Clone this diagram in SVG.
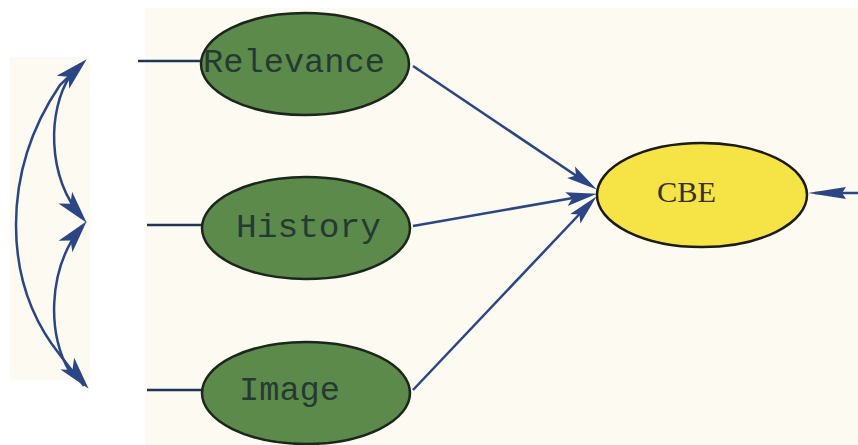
<svg xmlns="http://www.w3.org/2000/svg" xmlns:xlink="http://www.w3.org/1999/xlink" width="858" height="445" viewBox="0 0 858 445">
<style>
.bg{fill:#fcfaf1}
.node{fill:#5b8a4a;stroke:#1c261c;stroke-width:2.5}
.cbe{fill:#f6e447;stroke:#1c1c14;stroke-width:2.5}
.lbl{font-family:"Liberation Mono",monospace;font-size:33px;fill:#263a34}
.cbel{font-family:"Liberation Serif",serif;font-size:29px;fill:#3a3222}
.con{stroke:#2b4682;stroke-width:2.5;fill:none}
.stub{stroke:#23345a;stroke-width:2.5;fill:none}
.head{fill:#2b4682}
</style>
<defs>
<path id="head" class="head" d="M1,0 L-30,-7 L-24,0 L-30,7 Z"/>
<path id="headR" class="head" d="M1,0 L-37,-6 L-33,0 L-37,6 Z"/>
<path id="headL" class="head" d="M1,0 L-32,-9 L-24,0 L-32,9 Z"/>
</defs>
<rect x="0" y="0" width="858" height="445" fill="#ffffff"/>
<rect class="bg" x="145" y="8" width="713" height="437"/>
<rect class="bg" x="10" y="57" width="80" height="323"/>
<g id="connectors">
<line class="stub" x1="138" y1="61" x2="203" y2="61"/>
<line class="stub" x1="147" y1="225" x2="203" y2="225"/>
<line class="stub" x1="147" y1="390" x2="203" y2="390"/>
<line class="con" x1="413" y1="66" x2="590" y2="185"/>
<use xlink:href="#head" transform="translate(596,189) rotate(33.9)"/>
<line class="con" x1="413" y1="226" x2="590" y2="195"/>
<use xlink:href="#head" transform="translate(596,194) rotate(-9.9)"/>
<line class="con" x1="413" y1="390" x2="590" y2="203"/>
<use xlink:href="#head" transform="translate(596,197) rotate(-46.5)"/>
<line class="con" x1="858" y1="193" x2="815" y2="193"/>
<use xlink:href="#headR" transform="translate(809,193) rotate(180)"/>
<path class="con" d="M84,386 L60,355 Q16,300 16,225 Q16,150 60,85 L82,64"/>
<use xlink:href="#headL" transform="translate(86,60) rotate(-43.9)"/>
<use xlink:href="#headL" transform="translate(88,388) rotate(49.7)"/>
<path class="con" d="M70,76 C48,110 46,175 82,218"/>
<use xlink:href="#headL" transform="translate(86,222) rotate(49.6)"/>
<path class="con" d="M70,372 C48,338 46,270 82,226"/>
<use xlink:href="#headL" transform="translate(86,222) rotate(-50.2)"/>
</g>
<g id="relevance">
<ellipse class="node" cx="305" cy="64" rx="104" ry="51"/>
<text class="lbl" x="203" y="72" textLength="182" lengthAdjust="spacingAndGlyphs">Relevance</text>
</g>
<g id="history">
<ellipse class="node" cx="306" cy="228" rx="104" ry="51"/>
<text class="lbl" x="236" y="237" textLength="145" lengthAdjust="spacingAndGlyphs">History</text>
</g>
<g id="image">
<ellipse class="node" cx="306" cy="393" rx="104" ry="51"/>
<text class="lbl" x="239" y="400" textLength="101" lengthAdjust="spacingAndGlyphs">Image</text>
</g>
<g id="cbe">
<ellipse class="cbe" cx="702" cy="195" rx="105" ry="52"/>
<text class="cbel" x="657" y="202" textLength="59" lengthAdjust="spacingAndGlyphs">CBE</text>
</g>
</svg>
